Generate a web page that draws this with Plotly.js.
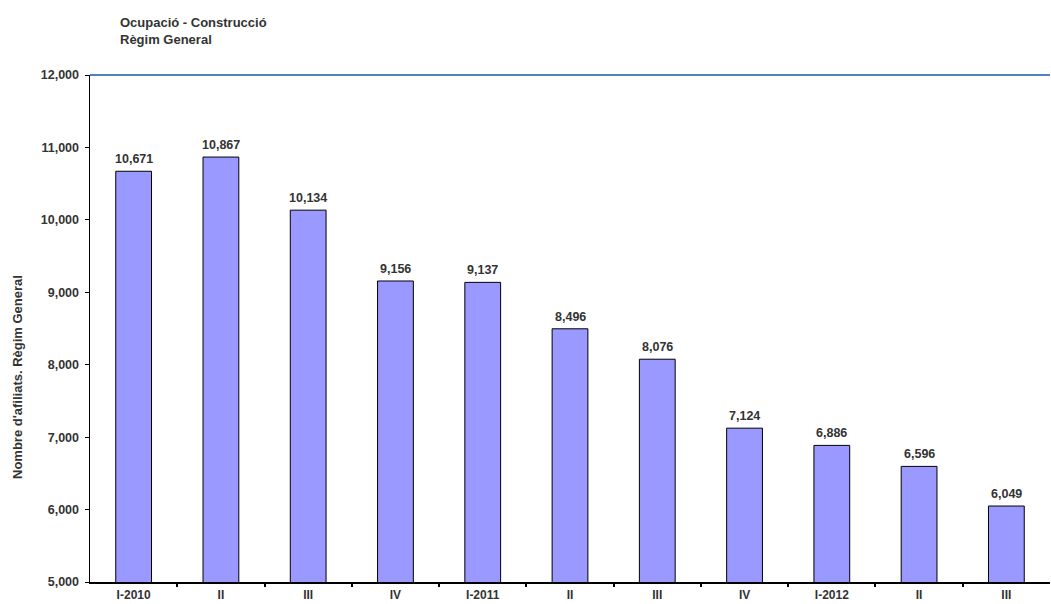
<!DOCTYPE html>
<html><head><meta charset="utf-8">
<script src="https://cdn.plot.ly/plotly-3.0.1.min.js"></script>
<style>body{margin:0;background:#fff}#c{width:1051px;height:604px}</style>
</head><body><div id="c"></div>
<script>
const categories = ["I-2010","II","III","IV","I-2011","II","III","IV","I-2012","II","III"];
const values = [10671,10867,10134,9156,9137,8496,8076,7124,6886,6596,6049];
const yTicks = [5000,6000,7000,8000,9000,10000,11000,12000];
const xs = categories.map((c,i)=>i);
const fontFam = "Liberation Sans, Arial, sans-serif";
const trace = {
  type:'bar', x: xs, y: values,
  marker:{color:'#9999ff', line:{color:'#000', width:1}},
  width:0.41,
  hoverinfo:'none'
};
const labelAnn = xs.map((x,i)=>({x:x, y:values[i], xref:'x', yref:'y', text:'<b>'+values[i].toLocaleString('en-US')+'</b>', showarrow:false, yanchor:'bottom', yshift:3, font:{size:12.5, family:fontFam, color:'#333'}}));
const layout = {
  width:1051, height:604,
  margin:{l:90, r:1, t:75, b:22, autoexpand:false},
  paper_bgcolor:'#fff', plot_bgcolor:'#fff',
  showlegend:false,
  font:{family:fontFam, color:'#333'},
  xaxis:{range:[-0.5,10.5], tickvals:xs, ticktext:categories.map(c=>'<b>'+c+'</b>'), showgrid:false, zeroline:false, showline:true, linecolor:'#000', linewidth:2, ticks:'', ticklabelstandoff:1, tickfont:{size:12, family:fontFam, color:'#333'}, automargin:false, fixedrange:true},
  xaxis2:{overlaying:'x', range:[-0.5,10.5], tickvals:xs.slice(1).map(i=>i-0.5), showticklabels:false, ticks:'outside', ticklen:4, tickwidth:2, tickcolor:'#000', showgrid:false, zeroline:false, showline:false, matches:'x'},
  yaxis:{range:[5000,12000], tickvals:yTicks, ticktext:yTicks.map(v=>'<b>'+v.toLocaleString('en-US')+'</b>'), showgrid:false, zeroline:false, showline:true, linecolor:'#000', linewidth:1.5, ticks:'outside', ticklen:4, tickcolor:'#000', ticklabelstandoff:3, tickfont:{size:12.5, family:fontFam, color:'#333'}, automargin:false},
  shapes:[{type:'line', xref:'paper', yref:'paper', x0:0, x1:1, y0:1, y1:1, line:{color:'#4f81bd', width:2}}],
  annotations:[
    {text:"<b>Ocupació - Construcció<br>Règim General</b>", xref:'paper', yref:'paper', x:(118-90)/960, y:(582-30.5)/507, xanchor:'left', yanchor:'middle', align:'left', showarrow:false, font:{size:13, family:fontFam, color:'#333'}},
    {text:"<b>Nombre d'afiliats. Règim General</b>", textangle:-90, xref:'paper', yref:'paper', x:-72/960, y:(582-377)/507, xanchor:'center', yanchor:'middle', showarrow:false, font:{size:13, family:fontFam, color:'#333'}}
  ].concat(labelAnn)
};
const ghost = {type:'scatter', x:[0], y:[5000], xaxis:'x2', mode:'markers', marker:{opacity:0}, hoverinfo:'none'};
Plotly.newPlot('c',[trace, ghost],layout,{displayModeBar:false, staticPlot:true});
</script></body></html>
